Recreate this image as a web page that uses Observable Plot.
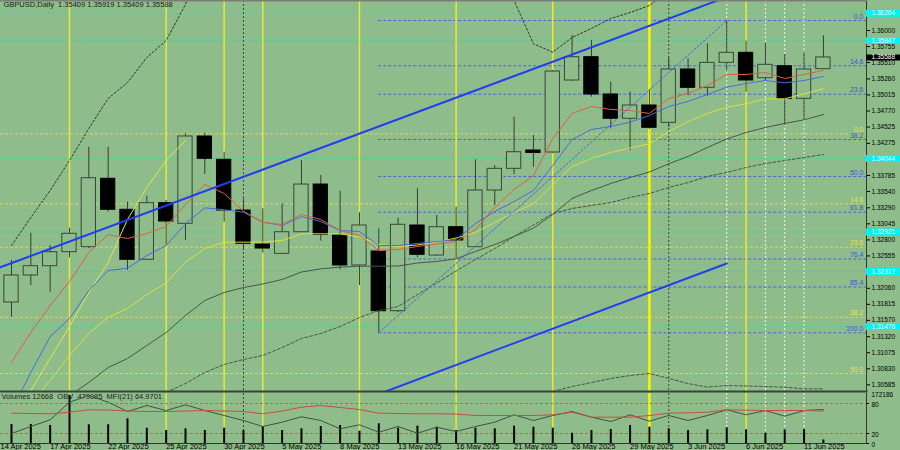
<!DOCTYPE html>
<html>
<head>
<meta charset="utf-8">
<script src="https://cdn.jsdelivr.net/npm/d3@7"></script>
<script src="https://cdn.jsdelivr.net/npm/@observablehq/plot@0.6"></script>
<style>
  html, body { margin: 0; padding: 0; background: #8fbc8b; }
  #chart { position: relative; width: 900px; height: 450px; overflow: hidden; background: #8fbc8b; }
  #chart svg { position: absolute; left: 0; overflow: visible; }
</style>
</head>
<body>
<div id="chart"></div>
<script>
// ---------- data ----------
const dates = ["15 Apr 2025","16 Apr 2025","17 Apr 2025","18 Apr 2025","21 Apr 2025","22 Apr 2025","23 Apr 2025","24 Apr 2025","25 Apr 2025","28 Apr 2025","29 Apr 2025","30 Apr 2025","1 May 2025","2 May 2025","5 May 2025","6 May 2025","7 May 2025","8 May 2025","9 May 2025","12 May 2025","13 May 2025","14 May 2025","15 May 2025","16 May 2025","19 May 2025","20 May 2025","21 May 2025","22 May 2025","23 May 2025","26 May 2025","27 May 2025","28 May 2025","29 May 2025","30 May 2025","2 Jun 2025","3 Jun 2025","4 Jun 2025","5 Jun 2025","6 Jun 2025","9 Jun 2025","10 Jun 2025","11 Jun 2025","12 Jun 2025"];
const open  = [1.31843,1.32256,1.32398,1.32612,1.32688,1.33734,1.33260,1.32496,1.33361,1.33046,1.34380,1.34024,1.33249,1.32729,1.32587,1.32917,1.33646,1.32867,1.32409,1.32623,1.31710,1.33020,1.32561,1.32994,1.32688,1.33555,1.33886,1.34166,1.34136,1.35236,1.35592,1.35022,1.34651,1.34854,1.34589,1.35404,1.35124,1.35506,1.35659,1.35271,1.35454,1.34956,1.35409];
const high  = [1.32485,1.32902,1.32714,1.32979,1.34216,1.34216,1.33376,1.33468,1.33402,1.34421,1.34430,1.34140,1.33428,1.33275,1.33352,1.34013,1.33784,1.33544,1.33214,1.32969,1.33131,1.33581,1.33173,1.33300,1.34024,1.33937,1.34675,1.34395,1.35389,1.35924,1.35847,1.35210,1.35057,1.35094,1.35583,1.35568,1.35797,1.36153,1.35837,1.35806,1.35633,1.35659,1.35919];
const low   = [1.31614,1.32103,1.32000,1.32526,1.32668,1.33223,1.32332,1.32485,1.32714,1.32791,1.33799,1.33070,1.32638,1.32597,1.32577,1.32913,1.32780,1.32343,1.32103,1.31380,1.31690,1.32526,1.32546,1.32516,1.32684,1.33326,1.33799,1.33911,1.34120,1.35221,1.34981,1.34498,1.34166,1.34487,1.34518,1.35004,1.34996,1.35389,1.35057,1.35221,1.34548,1.34635,1.35409];
const close = [1.32256,1.32398,1.32612,1.32893,1.33743,1.33260,1.32496,1.33361,1.33081,1.34380,1.34039,1.33249,1.32740,1.32668,1.32917,1.33646,1.32878,1.32409,1.33020,1.31710,1.33031,1.32572,1.32994,1.32791,1.33555,1.33886,1.34140,1.34128,1.35373,1.35592,1.35022,1.34651,1.34854,1.34513,1.35404,1.35124,1.35506,1.35659,1.35236,1.35476,1.34956,1.35404,1.35588];

const maRed    = [1.30926,1.31385,1.31797,1.32164,1.32607,1.32882,1.32821,1.32898,1.33005,1.33341,1.33646,1.33509,1.33238,1.33066,1.33035,1.33188,1.33112,1.32943,1.32867,1.32638,1.32653,1.32699,1.32737,1.32775,1.32959,1.33295,1.33570,1.33784,1.34349,1.34732,1.34839,1.34793,1.34777,1.34732,1.34961,1.35037,1.35159,1.35328,1.35328,1.35358,1.35266,1.35328,1.35389];
const maBlue   = [1.30193,1.30773,1.31323,1.31599,1.32026,1.32332,1.32367,1.32561,1.32714,1.33046,1.33290,1.33260,1.33223,1.33073,1.33020,1.33157,1.33081,1.32943,1.32928,1.32714,1.32714,1.32745,1.32775,1.32806,1.33050,1.33234,1.33387,1.33555,1.33937,1.34334,1.34487,1.34533,1.34599,1.34701,1.34839,1.34915,1.35022,1.35134,1.35190,1.35236,1.35201,1.35236,1.35297];
const maYellow = [1.29963,1.30315,1.30651,1.31033,1.31369,1.31618,1.31751,1.31965,1.32141,1.32459,1.32668,1.32765,1.32765,1.32765,1.32791,1.32893,1.32893,1.32893,1.32844,1.32729,1.32699,1.32722,1.32768,1.32829,1.32913,1.33066,1.33219,1.33352,1.33646,1.33922,1.34044,1.34136,1.34204,1.34268,1.34456,1.34609,1.34732,1.34828,1.34880,1.34956,1.34956,1.35033,1.35109];
const maGreen  = [null,null,null,1.30422,1.30620,1.30850,1.30987,1.31186,1.31385,1.31644,1.31874,1.31996,1.32072,1.32126,1.32195,1.32309,1.32358,1.32383,1.32398,1.32398,1.32401,1.32447,1.32470,1.32511,1.32623,1.32729,1.32852,1.32979,1.33188,1.33433,1.33555,1.33662,1.33753,1.33838,1.33963,1.34074,1.34212,1.34342,1.34441,1.34518,1.34579,1.34635,1.34716];
const maSlow   = [null,null,null,null,null,null,null,null,1.30468,1.30605,1.30773,1.30896,1.30972,1.31033,1.31155,1.31293,1.31369,1.31476,1.31614,1.31721,1.31782,1.31965,1.32141,1.32324,1.32500,1.32668,1.32852,1.33028,1.33203,1.33280,1.33326,1.33371,1.33448,1.33509,1.33601,1.33677,1.33769,1.33830,1.33906,1.33967,1.34013,1.34059,1.34105];
const thinYellow = [null,1.30498,1.30987,1.31476,1.31996,1.32454,1.33112,1.33601,1.34013,1.34319,null,null,null,null,null,null,null,null,null,null,null,null,null,null,null,null,null,null,null,null,null,null,null,null,null,null,null,null,null,null,null,null,null];
const envUpper = [1.32714,1.33142,1.33555,1.34013,1.34502,1.34961,1.35205,1.35587,1.35847,1.36397,1.37146,null,null,null,null,null,null,null,null,null,null,null,null,null,null,1.37223,1.36458,1.35797,1.35668,1.35893,1.36031,1.36183,1.36275,1.36382,1.36611,null,null,null,null,null,null,null,null];
const envLower = [null,null,null,null,null,null,null,null,null,null,null,null,null,null,null,null,null,null,null,null,null,null,null,null,null,null,null,1.30406,1.30483,1.30559,1.30620,1.30682,1.30727,1.30758,1.30682,1.30605,1.30549,1.30575,1.30567,1.30559,1.30549,1.30524,1.30524];

const volume = [68150,68150,64570,172186,67080,67080,88600,54880,46630,52730,46630,54880,46630,60980,46630,52730,60980,64570,44120,70660,54880,62060,58470,46630,54880,52730,62060,58470,54880,36950,46630,50220,64570,58470,52730,46630,49140,56320,49140,36950,49140,50220,12668];
const obv = [243885,312485,378145,550625,616285,550625,459485,518285,469285,525145,469285,420285,371285,312485,354625,407545,371285,289945,329145,256625,312485,246825,305625,263485,312485,354625,427145,371285,420285,459485,403625,361485,427145,364425,420285,371285,420285,476145,427145,469285,413425,469285,479085];
const mfi = [60.6,60,59.4,62.6,67.4,67,65,64,64,65,66,65,64,59.4,65,72.6,76,72,68,60.6,60,59.4,59.4,59,56,56,56,56,57.4,62.6,52.6,52.6,52.6,56,60.6,61.4,62.6,67.4,66.6,66,66,66,64.97];

const supportLevels = [1.36264,1.35847,1.34044,1.32921,1.32317,1.31476];
const fibBlueLabels = ["0.0","14.6","23.6","38.2","50.0","61.8","76.4","85.4","100.0"];
const fibBluePrice  = [1.36153,1.35461,1.35026,1.34334,1.33769,1.33223,1.32508,1.32080,1.31380];
const fibBlueStart = 19, fibBlueEnd = 37;
const fibYellowLabels = ["0.0","14.6","23.6","38.2","50.0"];
const fibYellowPrice  = [1.34421,1.33352,1.32688,1.31618,1.30758];
const trendUpper = [{i:-1, p:1.32335},{i:37, p:1.36511}];
const trendLower = [{i:19, p:1.30444},{i:37, p:1.32440}];

const weekLines = [3,8,11,13,18,23,28,38];
const monthEndLine = [33];
const monthStartLines = [12,34];
const whiteLines = [37,39,40,41];

const priceTicks = [1.36000,1.35755,1.35510,1.35260,1.35015,1.34770,1.34525,1.34275,1.33785,1.33540,1.33290,1.33045,1.32800,1.32555,1.32060,1.31815,1.31570,1.31320,1.31075,1.30830,1.30585];
const dateLabelIdx = [-0.569,2,5,8,11,14,17,20,23,26,29,32,35,38,41];
const dateLabels = ["14 Apr 2025","17 Apr 2025","22 Apr 2025","25 Apr 2025","30 Apr 2025","5 May 2025","8 May 2025","13 May 2025","16 May 2025","21 May 2025","26 May 2025","29 May 2025","3 Jun 2025","6 Jun 2025","11 Jun 2025"];
const mfiLevels = [20,80];
const mfiTicks = [0,20,80];
const volumeMax = 172186;
const titleText = "GBPUSD,Daily  1.35409 1.35919 1.35409 1.35588";
const panelText = "Volumes 12668  OBV  479085  MFI(21) 64.9701";

// ---------- layout / style ----------
const W = 900, HM = 391, HP = 59, AXW = 34;
const xDomain = [-0.569, 44.23];
const yDomain = [1.30483, 1.364585];
const obvDomain = [145885, 635885];
const BG = "#8fbc8b";
const BODY = 0.37;
const font = "'Liberation Sans', Arial, sans-serif";
const style = {background: "transparent", fontFamily: font, fontSize: "7px", overflow: "visible"};
const fmt5 = d3.format(".5f");

const rows = dates.map((d, i) => ({i, date: d, open: open[i], high: high[i], low: low[i], close: close[i],
  volume: volume[i], obv: obv[i], mfi: mfi[i]}));
const idx = dates.map((d, i) => i);

function verticals() {
  return [
    Plot.ruleX(weekLines, {stroke: "#eaea30", strokeWidth: 1.5}),
    Plot.ruleX(monthEndLine, {stroke: "#f4f400", strokeWidth: 2.6}),
    Plot.ruleX(monthStartLines, {stroke: "#3e4a3e", strokeDasharray: "2,2", strokeWidth: 1}),
    Plot.ruleX(whiteLines, {stroke: "#f2f2f2", strokeDasharray: "2,2", strokeWidth: 1})
  ];
}
const maLine = (series, opts) => Plot.line(idx, {x: d => d, y: d => series[d], clip: true, strokeWidth: 1, ...opts});

const main = Plot.plot({
  width: W, height: HM, marginLeft: 0, marginRight: AXW, marginTop: 0, marginBottom: 0,
  x: {domain: xDomain, axis: null},
  y: {domain: yDomain, axis: null},
  style,
  marks: [
    Plot.ruleY(supportLevels, {stroke: "#3fd0a8", strokeDasharray: "2,2"}),
    Plot.ruleY(fibYellowPrice, {stroke: "#dcdc46", strokeDasharray: "3,2"}),
    Plot.ruleY(fibBluePrice, {x1: () => fibBlueStart, x2: () => xDomain[1], stroke: "#4a66e0", strokeDasharray: "3,2"}),
    ...verticals(),
    Plot.ruleX(rows, {x: "i", y1: "low", y2: "high", stroke: "#343e34", strokeWidth: 1}),
    Plot.rect(rows, {filter: d => d.close >= d.open, x1: d => d.i - BODY, x2: d => d.i + BODY, y1: "open", y2: "close", fill: BG, stroke: "#3a453a"}),
    Plot.rect(rows, {filter: d => d.close < d.open, x1: d => d.i - BODY, x2: d => d.i + BODY, y1: "open", y2: "close", fill: "#000", stroke: "#000"}),
    maLine(envUpper, {stroke: "#2e3a2e", strokeDasharray: "2,2"}),
    maLine(envLower, {stroke: "#4a584a", strokeDasharray: "3,2"}),
    maLine(maSlow, {stroke: "#4a584a", strokeDasharray: "3,2"}),
    maLine(maGreen, {stroke: "#46584a"}),
    maLine(thinYellow, {stroke: "#dfe84a"}),
    maLine(maYellow, {stroke: "#d8e040"}),
    maLine(maBlue, {stroke: "#4b6ae0"}),
    maLine(maRed, {stroke: "#e0603e"}),
    Plot.line(trendUpper, {x: "i", y: "p", stroke: "#2040f0", strokeWidth: 2, clip: true}),
    Plot.line(trendLower, {x: "i", y: "p", stroke: "#2040f0", strokeWidth: 2, clip: true}),
    Plot.line([{i: fibBlueStart, p: low[fibBlueStart]}, {i: fibBlueEnd, p: high[fibBlueEnd]}],
      {x: "i", y: "p", stroke: "#4a66e0", strokeDasharray: "2,2", strokeWidth: 1}),
    Plot.text(fibBlueLabels, {y: (d, i) => fibBluePrice[i], text: d => d, frameAnchor: "right", textAnchor: "end", dx: -3, dy: -4, fill: "#3b55d8", fontSize: 7}),
    Plot.text(fibYellowLabels, {y: (d, i) => fibYellowPrice[i], text: d => d, frameAnchor: "right", textAnchor: "end", dx: -3, dy: -4, fill: "#e4e44a", fontSize: 7}),
    Plot.text([titleText], {frameAnchor: "top-left", dx: 3, dy: 1, lineAnchor: "top", fill: "#1a221a", fontSize: 7.5}),
    Plot.axisY(priceTicks, {anchor: "right", tickSize: 3, tickPadding: 2, tickFormat: fmt5, fontSize: 6.5, color: "#000"}),
    Plot.frame({anchor: "right", stroke: "#2e382e"}),
    Plot.frame({anchor: "bottom", stroke: "#3a443a", strokeWidth: 2}),
    Plot.frame({anchor: "top", stroke: "#7a7f7a", strokeWidth: 2})
  ]
});

const labels = Plot.plot({
  width: W, height: HM, marginLeft: W - AXW, marginRight: 0, marginTop: 0, marginBottom: 0,
  y: {domain: yDomain, axis: null},
  style,
  marks: [
    Plot.ruleY(supportLevels, {stroke: "#00f2f2", strokeWidth: 7}),
    Plot.text(supportLevels, {y: d => d, text: d => fmt5(d), frameAnchor: "left", textAnchor: "start", dx: 5, fill: "#f0ffff", fontSize: 6.5}),
    Plot.ruleY([close[close.length - 1]], {stroke: "#000", strokeWidth: 6}),
    Plot.text([close[close.length - 1]], {y: d => d, text: d => fmt5(d), frameAnchor: "left", textAnchor: "start", dx: 5, dy: -1, fill: "#fff", fontSize: 6.5})
  ]
});

const panelBase = Plot.plot({
  width: W, height: HP, marginLeft: 0, marginRight: AXW, marginTop: 2, marginBottom: 7,
  x: {domain: xDomain, axis: null},
  y: {domain: [0, 100], axis: null},
  style,
  marks: [
    ...verticals(),
    Plot.ruleY(mfiLevels, {stroke: "#dc5a4a", strokeDasharray: "3,2"}),
    Plot.ruleY(mfiTicks, {x1: () => xDomain[1], x2: () => xDomain[1] + 0.16, stroke: "#000", clip: false}),
    Plot.text(mfiTicks, {y: d => d, text: d => String(d), frameAnchor: "right", textAnchor: "start", dx: 5, dy: 1.5, fill: "#000", fontSize: 6.5}),
    Plot.text([panelText], {frameAnchor: "top-left", dx: 1, dy: 0, lineAnchor: "top", fill: "#1a221a", fontSize: 7.5}),
    Plot.text(dateLabelIdx, {x: d => d, text: (d, i) => dateLabels[i], frameAnchor: "bottom", textAnchor: "start", lineAnchor: "top", dy: 0, fill: "#000", fontSize: 7.5}),
    Plot.frame({anchor: "right", stroke: "#2e382e"}),
    Plot.frame({anchor: "bottom", stroke: "#2e382e"})
  ]
});

const panelVol = Plot.plot({
  width: W, height: HP, marginLeft: 0, marginRight: AXW, marginTop: 4, marginBottom: 7,
  x: {domain: xDomain, axis: null},
  y: {domain: [0, volumeMax], axis: null},
  style,
  marks: [
    Plot.ruleX(rows, {x: "i", y1: () => 0, y2: "volume", stroke: "#000", strokeWidth: 2}),
    Plot.text([volumeMax], {y: d => d, text: d => String(d), frameAnchor: "right", textAnchor: "start", dx: 5, dy: -0.5, fill: "#000", fontSize: 6.5})
  ]
});

const panelObv = Plot.plot({
  width: W, height: HP, marginLeft: 0, marginRight: AXW, marginTop: 2, marginBottom: 7,
  x: {domain: xDomain, axis: null},
  y: {domain: obvDomain, axis: null},
  style,
  marks: [Plot.line(rows, {x: "i", y: "obv", stroke: "#435243", strokeWidth: 1})]
});

const panelMfi = Plot.plot({
  width: W, height: HP, marginLeft: 0, marginRight: AXW, marginTop: 2, marginBottom: 7,
  x: {domain: xDomain, axis: null},
  y: {domain: [0, 100], axis: null},
  style,
  marks: [Plot.line(rows, {x: "i", y: "mfi", stroke: "#cc4c3c", strokeWidth: 1})]
});

const chart = document.getElementById("chart");
[[main, 0], [labels, 0], [panelBase, HM], [panelVol, HM], [panelObv, HM], [panelMfi, HM]].forEach(([svg, top]) => {
  svg.style.top = top + "px";
  chart.appendChild(svg);
});
</script>
</body>
</html>
